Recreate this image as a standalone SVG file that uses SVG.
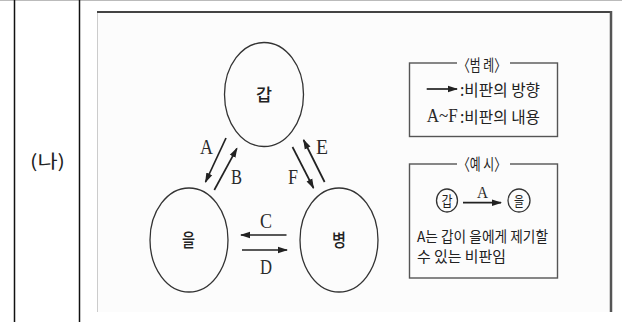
<svg xmlns="http://www.w3.org/2000/svg" width="622" height="322" viewBox="0 0 622 322">
<defs>
<marker id="ah" markerUnits="userSpaceOnUse" markerWidth="10" markerHeight="8" refX="9" refY="4" orient="auto">
<path d="M0,0.8 L10,4 L0,7.2 Z" fill="#222"/>
</marker>
<style>
.ell{fill:none;stroke:#333;stroke-width:1.3}
.kr{font-family:"Noto Sans CJK KR","Noto Sans",sans-serif;fill:#222}
.nd{font-weight:500}
.lt{font-family:"Liberation Serif",serif;fill:#2a2a2a}
.conn{stroke:#222;stroke-width:1.7;fill:none;marker-end:url(#ah)}
.box{fill:none;stroke:#555;stroke-width:1.4}
</style>
</defs>
<rect width="622" height="322" fill="#fff"/>
<g id="table">
<line x1="0" y1="0.5" x2="622" y2="0.5" stroke="#bbb" stroke-width="1"/>
<line x1="14.5" y1="0" x2="14.5" y2="322" stroke="#111" stroke-width="1.5"/>
<line x1="79.5" y1="0" x2="79.5" y2="322" stroke="#111" stroke-width="1.5"/>
<text x="47.5" y="168" font-family="'Noto Sans CJK KR',sans-serif" font-size="18" text-anchor="middle" fill="#222" textLength="35" lengthAdjust="spacingAndGlyphs">(나)</text>
</g>
<g id="frame">
<rect x="97" y="12" width="514" height="300" fill="#fcfcfc"/>
<line x1="97.5" y1="12" x2="97.5" y2="312" stroke="#ccc" stroke-width="1"/>
<line x1="97" y1="12" x2="611" y2="12" stroke="#444" stroke-width="2"/>
<line x1="611" y1="11" x2="611" y2="312" stroke="#555" stroke-width="2.5"/>
</g>
<g id="node-gap">
<ellipse class="ell" cx="264" cy="94.5" rx="39.5" ry="52"/>
<text class="kr nd" x="264" y="101" font-size="17" text-anchor="middle" textLength="16" lengthAdjust="spacingAndGlyphs">갑</text>
</g>
<g id="node-eul">
<ellipse class="ell" cx="189" cy="240" rx="39" ry="52"/>
<text class="kr nd" x="188.5" y="246.5" font-size="18" text-anchor="middle" textLength="13" lengthAdjust="spacingAndGlyphs">을</text>
</g>
<g id="node-byeong">
<ellipse class="ell" cx="339" cy="240" rx="39" ry="52"/>
<text class="kr nd" x="339" y="246.5" font-size="18" text-anchor="middle" textLength="14" lengthAdjust="spacingAndGlyphs">병</text>
</g>
<g id="connectors">
<line class="conn" x1="226" y1="138" x2="205.5" y2="182"/>
<line class="conn" x1="214.3" y1="190" x2="236.9" y2="148.3"/>
<line class="conn" x1="292.5" y1="147" x2="313.5" y2="188"/>
<line class="conn" x1="324.6" y1="182" x2="303.6" y2="140"/>
<line class="conn" x1="286.5" y1="235" x2="241" y2="235"/>
<line class="conn" x1="242" y1="250" x2="287" y2="250"/>
<g font-size="21">
<text class="lt" x="200" y="154" textLength="13" lengthAdjust="spacingAndGlyphs">A</text>
<text class="lt" x="231" y="184" textLength="11" lengthAdjust="spacingAndGlyphs">B</text>
<text class="lt" x="316" y="154" textLength="12" lengthAdjust="spacingAndGlyphs">E</text>
<text class="lt" x="288" y="184" textLength="10" lengthAdjust="spacingAndGlyphs">F</text>
<text class="lt" x="260" y="228" textLength="12" lengthAdjust="spacingAndGlyphs">C</text>
<text class="lt" x="260" y="274" textLength="12" lengthAdjust="spacingAndGlyphs">D</text>
</g>
</g>
<g id="legend">
<rect class="box" x="409.5" y="63" width="148" height="73.5"/>
<rect x="457" y="58" width="53" height="10" fill="#fcfcfc"/>
<text class="kr" x="458" y="71" font-size="16" textLength="48" lengthAdjust="spacingAndGlyphs">〈범 례〉</text>
<line class="conn" x1="426.7" y1="89" x2="457" y2="89"/>
<text class="kr" x="460" y="96" font-size="16" textLength="80" lengthAdjust="spacingAndGlyphs">:비판의 방향</text>
<text class="lt" x="426.7" y="122" font-size="19" textLength="31" lengthAdjust="spacingAndGlyphs">A~F</text>
<text class="kr" x="460" y="123" font-size="16" textLength="80" lengthAdjust="spacingAndGlyphs">:비판의 내용</text>
</g>
<g id="example">
<rect class="box" x="409.5" y="164" width="148" height="114"/>
<rect x="457" y="158" width="53" height="10" fill="#fcfcfc"/>
<text class="kr" x="458" y="170" font-size="16" textLength="48" lengthAdjust="spacingAndGlyphs">〈예 시〉</text>
<ellipse class="ell" cx="447" cy="200.5" rx="10.5" ry="11.5"/>
<text class="kr" x="447" y="206" font-size="14" text-anchor="middle" textLength="11" lengthAdjust="spacingAndGlyphs">갑</text>
<ellipse class="ell" cx="519" cy="200.5" rx="11" ry="11.5"/>
<text class="kr" x="519" y="206" font-size="14" text-anchor="middle" textLength="10" lengthAdjust="spacingAndGlyphs">을</text>
<line class="conn" x1="463" y1="202.7" x2="501" y2="202.7"/>
<text class="lt" x="477" y="198" font-size="17" textLength="11" lengthAdjust="spacingAndGlyphs">A</text>
<text class="kr" x="417" y="242" font-size="15" textLength="131" lengthAdjust="spacingAndGlyphs">A는 갑이 을에게 제기할</text>
<text class="kr" x="417" y="262" font-size="15" textLength="89" lengthAdjust="spacingAndGlyphs">수 있는 비판임</text>
</g>
</svg>
